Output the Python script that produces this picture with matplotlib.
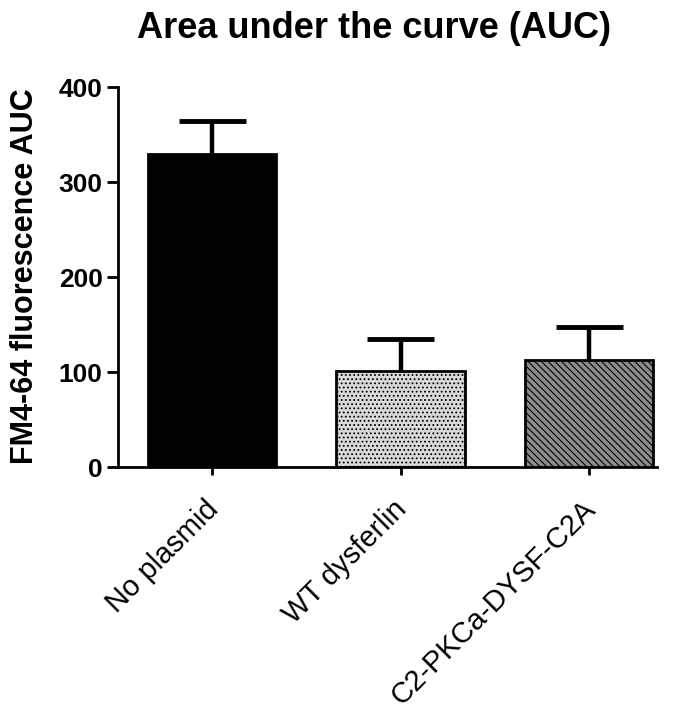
import numpy as np
import matplotlib
matplotlib.use("Agg")
import matplotlib.pyplot as plt
import matplotlib.transforms as mtransforms

# data
groups = ["No plasmid", "WT dysferlin", "C2-PKCa-DYSF-C2A"]
auc_mean = [330, 101, 113]
auc_sem = [34, 34, 35]
bar_faces = ["black", "#d9d9d9", "#8c8c8c"]
bar_hatches = [None, "....", "\\\\\\\\\\"]
y_ticks = [0, 100, 200, 300, 400]

plt.rcParams['font.family'] = ['Liberation Sans', 'DejaVu Sans']
plt.rcParams['hatch.linewidth'] = 0.8

fig = plt.figure(figsize=(6.85, 7.09), dpi=100)
ax = fig.add_axes([0.172, 0.341, 0.787, 0.536])

x = np.arange(len(groups))
cap = 0.178
for i in range(len(groups)):
	ax.bar(x[i], auc_mean[i], width=0.68, color=bar_faces[i], edgecolor='black',
			linewidth=2, hatch=bar_hatches[i], zorder=2)
	# upper error bar only
	top = auc_mean[i] + auc_sem[i]
	ax.vlines(x[i], auc_mean[i], top, colors='black', linewidth=3.2, zorder=1)
	ax.hlines(top, x[i] - cap, x[i] + cap, colors='black', linewidth=3.5, zorder=1)

ax.set_xlim(-0.5, 2.36)
ax.set_ylim(0, 400)
ax.set_yticks(y_ticks)
ax.set_xticks(x)
ax.set_xticklabels(groups, rotation=45, ha='right', rotation_mode='anchor',
					fontsize=21)
ax.tick_params(axis='y', labelsize=19, width=2, length=8, pad=3)
ax.tick_params(axis='x', width=2, length=6, pad=12)
for lab in ax.get_yticklabels():
	lab.set_fontweight('bold')
# nudge rotated labels a little to the left
shift = mtransforms.ScaledTranslation(-8 / 100, -3 / 100, fig.dpi_scale_trans)
for lab in ax.get_xticklabels():
	lab.set_transform(lab.get_transform() + shift)

for s in ['top', 'right']:
	ax.spines[s].set_visible(False)
for s in ['left', 'bottom']:
	ax.spines[s].set_linewidth(2)

fig.text(25 / 685, 1 - 276 / 709, "FM4-64 fluorescence AUC", fontsize=22,
			fontweight='bold', rotation=90, ha='center', va='center')
fig.text(374 / 685, 1 - 29 / 709, "Area under the curve (AUC)", fontsize=26,
			fontweight='bold', ha='center', va='center')

fig.savefig("out.png", dpi=100)
